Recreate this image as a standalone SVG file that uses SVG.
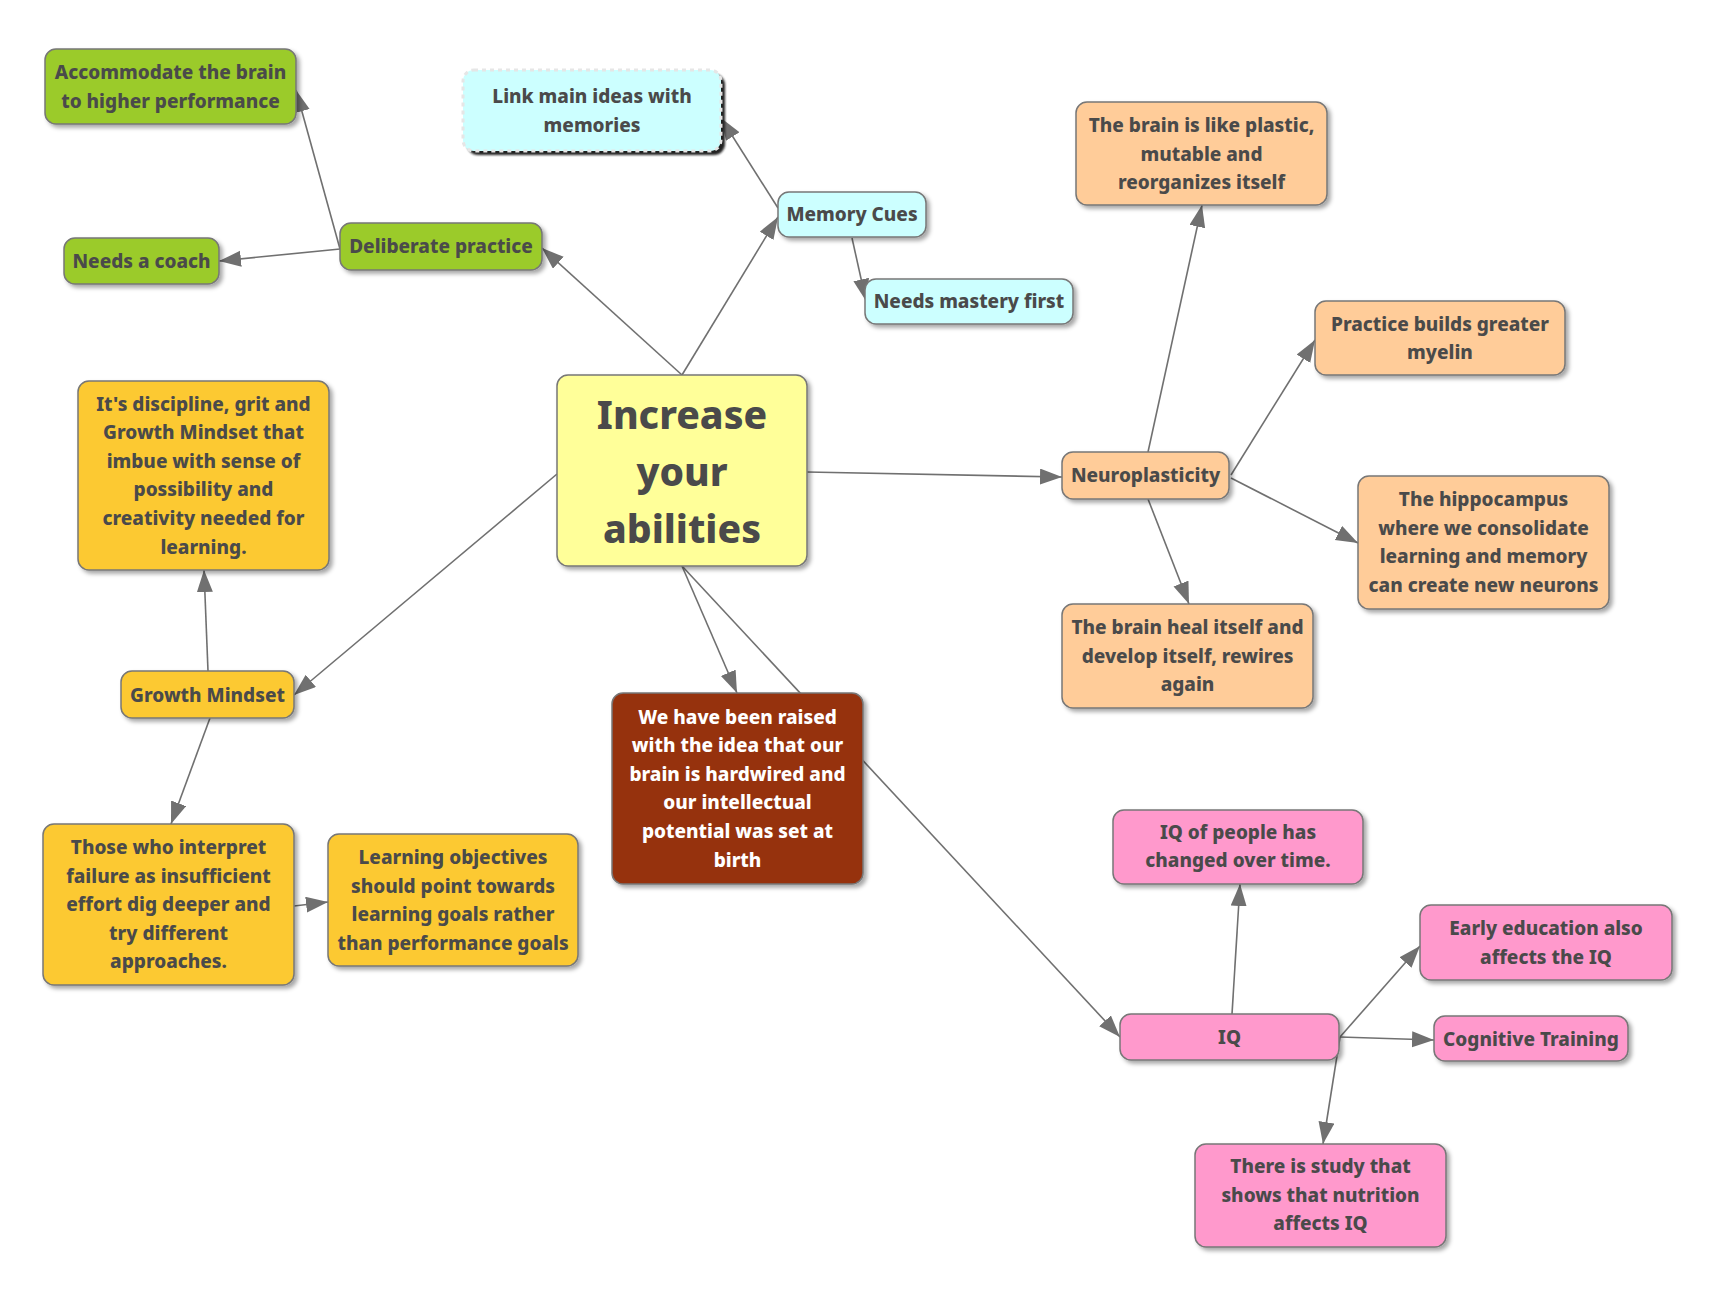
<svg xmlns="http://www.w3.org/2000/svg" width="1720" height="1300" viewBox="0 0 1720 1300">
<defs>
<style>
.n{stroke:#777;stroke-width:1.5;filter:url(#sh)}
.t{font-family:"Noto Sans","Open Sans","DejaVu Sans",sans-serif;font-weight:800;font-size:19px;fill:#4a4a4a;text-anchor:middle}
.w{fill:#ffffff}
.big{font-size:39px}
.c{stroke:#707070;stroke-width:1.6;fill:none;marker-end:url(#ah)}
.green{fill:#9bcb2a}.cyan{fill:#ccffff}.peach{fill:#ffcc99}.yel{fill:#ffff99}.gold{fill:#fcc930}.brown{fill:#96330f}.pink{fill:#ff99cc}
</style>
<filter id="sh" x="-10%" y="-10%" width="130%" height="140%">
<feDropShadow dx="3" dy="3" stdDeviation="2" flood-color="#000" flood-opacity="0.35"/>
</filter>
<filter id="sh2" x="-10%" y="-10%" width="130%" height="140%">
<feGaussianBlur stdDeviation="1.2"/>
</filter>
<marker id="ah" markerUnits="userSpaceOnUse" markerWidth="24" markerHeight="18" refX="22" refY="8" orient="auto">
<path d="M0,0 L22,8 L0,16 z" fill="#707070"/>
</marker>
</defs>
<rect width="1720" height="1300" fill="#ffffff"/>
<g id="connectors">
<line class="c" x1="682" y1="375" x2="542" y2="248"/>
<line class="c" x1="682" y1="375" x2="778" y2="217"/>
<line class="c" x1="340" y1="249" x2="219" y2="261"/>
<line class="c" x1="340" y1="249" x2="296" y2="90"/>
<line class="c" x1="778" y1="208" x2="721" y2="118"/>
<line class="c" x1="852" y1="238" x2="866" y2="301"/>
<line class="c" x1="807" y1="472" x2="1062" y2="477"/>
<line class="c" x1="1148" y1="452" x2="1202" y2="205"/>
<line class="c" x1="1231" y1="475" x2="1315" y2="340"/>
<line class="c" x1="1231" y1="478" x2="1358" y2="543"/>
<line class="c" x1="1148" y1="499" x2="1189" y2="604"/>
<line class="c" x1="557" y1="474" x2="294" y2="695"/>
<line class="c" x1="208" y1="671" x2="204" y2="570"/>
<line class="c" x1="210" y1="718" x2="171" y2="824"/>
<line class="c" x1="294" y1="906" x2="328" y2="902"/>
<line class="c" x1="682" y1="566" x2="737" y2="693"/>
<line class="c" x1="682" y1="566" x2="1120" y2="1037"/>
<line class="c" x1="1232" y1="1014" x2="1240" y2="884"/>
<line class="c" x1="1340" y1="1037" x2="1420" y2="946"/>
<line class="c" x1="1340" y1="1037" x2="1434" y2="1040"/>
<line class="c" x1="1340" y1="1037" x2="1323" y2="1144"/>
</g>
<g id="n-accommodate">
<rect class="n green" x="45" y="49" width="251" height="75" rx="11"/>
<text class="t" x="170.5" y="79">Accommodate the brain</text>
<text class="t" x="170.5" y="108">to higher performance</text>
</g>
<g id="n-link">
<rect x="467" y="74" width="258" height="81" rx="11" fill="#222" filter="url(#sh2)"/>
<rect x="463" y="70" width="258" height="81" rx="11" fill="#ccffff" stroke="#e6e6e6" stroke-width="3" stroke-dasharray="4 4"/>
<text class="t" x="592" y="103">Link main ideas with</text>
<text class="t" x="592" y="132">memories</text>
</g>
<g id="n-coach">
<rect class="n green" x="64" y="238" width="155" height="46" rx="11"/>
<text class="t" x="141.5" y="268">Needs a coach</text>
</g>
<g id="n-deliberate">
<rect class="n green" x="340" y="223" width="202" height="47" rx="11"/>
<text class="t" x="441" y="253">Deliberate practice</text>
</g>
<g id="n-memory">
<rect class="n cyan" x="778" y="192" width="148" height="45" rx="11"/>
<text class="t" x="852" y="221">Memory Cues</text>
</g>
<g id="n-mastery">
<rect class="n cyan" x="865" y="279" width="208" height="45" rx="11"/>
<text class="t" x="969" y="308">Needs mastery first</text>
</g>
<g id="n-plastic">
<rect class="n peach" x="1076" y="102" width="251" height="103" rx="11"/>
<text class="t" x="1201.5" y="132">The brain is like plastic,</text>
<text class="t" x="1201.5" y="160.5">mutable and</text>
<text class="t" x="1201.5" y="189">reorganizes itself</text>
</g>
<g id="n-myelin">
<rect class="n peach" x="1315" y="301" width="250" height="74" rx="11"/>
<text class="t" x="1440" y="330.5">Practice builds greater</text>
<text class="t" x="1440" y="359">myelin</text>
</g>
<g id="n-center">
<rect class="n yel" x="557" y="375" width="250" height="191" rx="11"/>
<text class="t big" x="682" y="429">Increase</text>
<text class="t big" x="682" y="486">your</text>
<text class="t big" x="682" y="543">abilities</text>
</g>
<g id="n-discipline">
<rect class="n gold" x="78" y="381" width="251" height="189" rx="11"/>
<text class="t" x="203.5" y="410.5">It's discipline, grit and</text>
<text class="t" x="203.5" y="439">Growth Mindset that</text>
<text class="t" x="203.5" y="467.7">imbue with sense of</text>
<text class="t" x="203.5" y="496.3">possibility and</text>
<text class="t" x="203.5" y="525">creativity needed for</text>
<text class="t" x="203.5" y="553.5">learning.</text>
</g>
<g id="n-neuro">
<rect class="n peach" x="1062" y="452" width="167" height="47" rx="11"/>
<text class="t" x="1145.5" y="482">Neuroplasticity</text>
</g>
<g id="n-hippo">
<rect class="n peach" x="1358" y="476" width="251" height="133" rx="11"/>
<text class="t" x="1483.5" y="506">The hippocampus</text>
<text class="t" x="1483.5" y="534.6">where we consolidate</text>
<text class="t" x="1483.5" y="563.2">learning and memory</text>
<text class="t" x="1483.5" y="591.8">can create new neurons</text>
</g>
<g id="n-heal">
<rect class="n peach" x="1062" y="604" width="251" height="104" rx="11"/>
<text class="t" x="1187.5" y="634">The brain heal itself and</text>
<text class="t" x="1187.5" y="662.6">develop itself, rewires</text>
<text class="t" x="1187.5" y="691.2">again</text>
</g>
<g id="n-growth">
<rect class="n gold" x="121" y="671" width="173" height="47" rx="11"/>
<text class="t" x="207.5" y="701.5">Growth Mindset</text>
</g>
<g id="n-raised">
<rect class="n brown" x="612" y="693" width="251" height="191" rx="11"/>
<text class="t w" x="737.5" y="723.5">We have been raised</text>
<text class="t w" x="737.5" y="752">with the idea that our</text>
<text class="t w" x="737.5" y="780.7">brain is hardwired and</text>
<text class="t w" x="737.5" y="809.3">our intellectual</text>
<text class="t w" x="737.5" y="838">potential was set at</text>
<text class="t w" x="737.5" y="866.5">birth</text>
</g>
<g id="n-those">
<rect class="n gold" x="43" y="824" width="251" height="161" rx="11"/>
<text class="t" x="168.5" y="854">Those who interpret</text>
<text class="t" x="168.5" y="882.6">failure as insufficient</text>
<text class="t" x="168.5" y="911.2">effort dig deeper and</text>
<text class="t" x="168.5" y="939.8">try different</text>
<text class="t" x="168.5" y="968.4">approaches.</text>
</g>
<g id="n-objectives">
<rect class="n gold" x="328" y="834" width="250" height="132" rx="11"/>
<text class="t" x="453" y="864">Learning objectives</text>
<text class="t" x="453" y="892.6">should point towards</text>
<text class="t" x="453" y="921.2">learning goals rather</text>
<text class="t" x="453" y="949.8">than performance goals</text>
</g>
<g id="n-iqpeople">
<rect class="n pink" x="1113" y="810" width="250" height="74" rx="11"/>
<text class="t" x="1238" y="838.5">IQ of people has</text>
<text class="t" x="1238" y="867">changed over time.</text>
</g>
<g id="n-early">
<rect class="n pink" x="1420" y="905" width="252" height="75" rx="11"/>
<text class="t" x="1546" y="935">Early education also</text>
<text class="t" x="1546" y="963.5">affects the IQ</text>
</g>
<g id="n-iq">
<rect class="n pink" x="1120" y="1014" width="219" height="46" rx="11"/>
<text class="t" x="1229.5" y="1044">IQ</text>
</g>
<g id="n-cognitive">
<rect class="n pink" x="1434" y="1016" width="194" height="45" rx="11"/>
<text class="t" x="1531" y="1045.5">Cognitive Training</text>
</g>
<g id="n-study">
<rect class="n pink" x="1195" y="1144" width="251" height="103" rx="11"/>
<text class="t" x="1320.5" y="1173">There is study that</text>
<text class="t" x="1320.5" y="1201.6">shows that nutrition</text>
<text class="t" x="1320.5" y="1230.2">affects IQ</text>
</g>
</svg>
